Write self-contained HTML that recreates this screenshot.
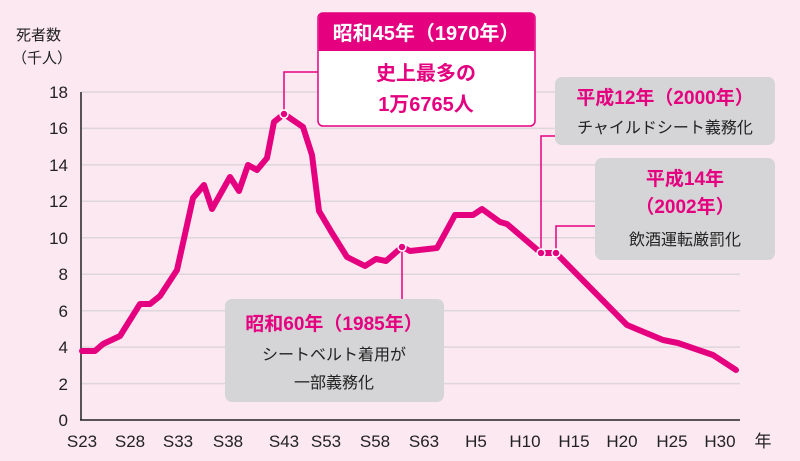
<!DOCTYPE html>
<html><head><meta charset="utf-8"><style>
body{margin:0;background:#fce8f1;}
svg{display:block;font-family:"Liberation Sans","Noto Sans CJK JP",sans-serif;}
</style></head><body>
<svg width="800" height="461" viewBox="0 0 800 461">
<rect width="800" height="461" fill="#fce8f1"/>
<g stroke="#ddd6da" stroke-width="1.5">
<line x1="82" x2="740" y1="92" y2="92"/><line x1="82" x2="740" y1="128.4" y2="128.4"/>
<line x1="82" x2="740" y1="164.9" y2="164.9"/><line x1="82" x2="740" y1="201.3" y2="201.3"/>
<line x1="82" x2="740" y1="237.8" y2="237.8"/><line x1="82" x2="740" y1="274.2" y2="274.2"/>
<line x1="82" x2="740" y1="310.7" y2="310.7"/><line x1="82" x2="740" y1="347.1" y2="347.1"/>
<line x1="82" x2="740" y1="383.6" y2="383.6"/>
</g>
<line x1="81" y1="92" x2="81" y2="420" stroke="#222" stroke-width="1.5"/>
<line x1="80" y1="420" x2="740" y2="420" stroke="#222" stroke-width="1.5"/>
<g font-size="17" fill="#222" text-anchor="end">
<text x="68" y="98">18</text><text x="68" y="134">16</text><text x="68" y="171">14</text>
<text x="68" y="207">12</text><text x="68" y="244">10</text><text x="68" y="280">8</text>
<text x="68" y="317">6</text><text x="68" y="353">4</text><text x="68" y="390">2</text><text x="68" y="426">0</text>
</g>
<text x="16" y="40" font-size="15" fill="#222">死者数</text>
<text x="12" y="63" font-size="15" fill="#222">（千人）</text>
<g font-size="17" fill="#222" text-anchor="middle">
<text x="82" y="447">S23</text><text x="130" y="447">S28</text><text x="178" y="447">S33</text>
<text x="228" y="447">S38</text><text x="284" y="447">S43</text><text x="326" y="447">S53</text>
<text x="375" y="447">S58</text><text x="424" y="447">S63</text><text x="476" y="447">H5</text>
<text x="525" y="447">H10</text><text x="574" y="447">H15</text><text x="622" y="447">H20</text>
<text x="672" y="447">H25</text><text x="720" y="447">H30</text><text x="763" y="447">年</text>
</g>
<g stroke="#e4007f" stroke-width="1.5" fill="none">
<polyline points="284,114 284,72 318,72"/>
<polyline points="541,253 541,136 555,136"/>
<polyline points="556,253 556,226 595,226"/>
<polyline points="402,247 402,299"/>
</g>
<polyline fill="none" stroke="#e4007f" stroke-width="6" stroke-linejoin="round" stroke-linecap="round"
points="82,351 95,351 103,344 120,336 140,304 150,304 160,296 177,270 193,198 204,185 212,209 230,177 239,191 248,165 257,170 267,158 274,122 284,114 303,127 312,155 319,211 332,233 347,257 365,266 376,259 386,261 402,247 410,251 437,248 455,215 473,215 482,209 500,222 507,224 541,253 556,253 627,325 663,340 678,343 713,355 736,370"/>
<g fill="#e4007f" stroke="#fff" stroke-width="1.5">
<circle cx="284" cy="114" r="4"/><circle cx="402" cy="247" r="4"/><circle cx="541" cy="253" r="4"/><circle cx="556" cy="253" r="4"/>
</g>
<rect x="318" y="13" width="217" height="113" rx="5" fill="#fff" stroke="#e4007f" stroke-width="1.5"/>
<path d="M318.75,51 V18 a5,5 0 0 1 5,-5 H529.25 a5,5 0 0 1 5,5 V51 Z" fill="#e4007f"/>
<text x="426" y="40" font-size="20" font-weight="bold" fill="#fff" text-anchor="middle">昭和45年（1970年）</text>
<text x="426" y="80" font-size="20" font-weight="bold" fill="#e4007f" text-anchor="middle">史上最多の</text>
<text x="426" y="111" font-size="20" font-weight="bold" fill="#e4007f" text-anchor="middle">1万6765人</text>
<rect x="555" y="77" width="220" height="68" rx="7" fill="#d5d5d7"/>
<text x="665" y="104" font-size="19" font-weight="bold" fill="#e4007f" text-anchor="middle">平成12年（2000年）</text>
<text x="665" y="133" font-size="16" fill="#222" text-anchor="middle">チャイルドシート義務化</text>
<rect x="595" y="158" width="180" height="102" rx="7" fill="#d5d5d7"/>
<text x="685" y="185" font-size="19" font-weight="bold" fill="#e4007f" text-anchor="middle">平成14年</text>
<text x="685" y="213" font-size="19" font-weight="bold" fill="#e4007f" text-anchor="middle">（2002年）</text>
<text x="685" y="245" font-size="16" fill="#222" text-anchor="middle">飲酒運転厳罰化</text>
<rect x="225" y="299" width="219" height="103" rx="7" fill="#d5d5d7"/>
<text x="334" y="330" font-size="19" font-weight="bold" fill="#e4007f" text-anchor="middle">昭和60年（1985年）</text>
<text x="334" y="360" font-size="16" fill="#222" text-anchor="middle">シートベルト着用が</text>
<text x="334" y="388" font-size="16" fill="#222" text-anchor="middle">一部義務化</text>
</svg>
</body></html>
